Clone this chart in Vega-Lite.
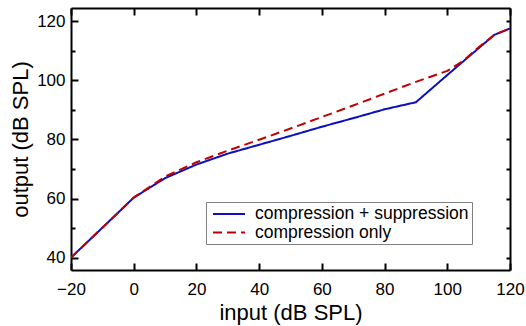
{
  "$schema": "https://vega.github.io/schema/vega-lite/v6.json",
  "width": 439,
  "height": 262,
  "autosize": {"type": "none"},
  "padding": {"left": 71, "top": 8, "right": 16, "bottom": 56},
  "background": "white",
  "config": {
    "view": {"stroke": null},
    "font": "Liberation Sans",
    "axis": {
      "grid": false,
      "domainColor": "black",
      "domainWidth": 2,
      "tickColor": "black",
      "tickWidth": 2,
      "labelColor": "black",
      "titleColor": "black",
      "labelFont": "Liberation Sans",
      "titleFont": "Liberation Sans",
      "labelFontSize": 17,
      "titleFontSize": 22,
      "titleFontWeight": "normal",
      "labelFlush": false,
      "labelOverlap": false
    },
    "legend": {
      "title": " ",
      "titleOrient": "bottom",
      "titleFontSize": 10,
      "titlePadding": 0,
      "orient": "none",
      "legendX": 135,
      "legendY": 194,
      "direction": "vertical",
      "strokeColor": "#808080",
      "fillColor": "white",
      "padding": 3,
      "symbolType": "M-2,0H2",
      "symbolSize": 256,
      "symbolOffset": 11,
      "symbolStrokeWidth": 2,
      "labelFontSize": 17.5,
      "labelFont": "Liberation Sans",
      "labelColor": "black",
      "labelOffset": 17,
      "rowPadding": 0.5,
      "labelLimit": 400
    }
  },
  "data": {
    "values": [
      {"series": "compression + suppression", "input": -20, "output": 40.0},
      {"series": "compression + suppression", "input": -10, "output": 50.1},
      {"series": "compression + suppression", "input": 0, "output": 60.3},
      {"series": "compression + suppression", "input": 10, "output": 66.9},
      {"series": "compression + suppression", "input": 20, "output": 71.5},
      {"series": "compression + suppression", "input": 30, "output": 75.2},
      {"series": "compression + suppression", "input": 40, "output": 78.2},
      {"series": "compression + suppression", "input": 50, "output": 81.2},
      {"series": "compression + suppression", "input": 60, "output": 84.3},
      {"series": "compression + suppression", "input": 70, "output": 87.2},
      {"series": "compression + suppression", "input": 80, "output": 90.2},
      {"series": "compression + suppression", "input": 90, "output": 92.6},
      {"series": "compression + suppression", "input": 100, "output": 101.8},
      {"series": "compression + suppression", "input": 110, "output": 110.9},
      {"series": "compression + suppression", "input": 115, "output": 115.4},
      {"series": "compression + suppression", "input": 120, "output": 117.6},
      {"series": "compression only", "input": -20, "output": 40.0},
      {"series": "compression only", "input": -10, "output": 50.1},
      {"series": "compression only", "input": 0, "output": 60.3},
      {"series": "compression only", "input": 10, "output": 67.4},
      {"series": "compression only", "input": 20, "output": 72.3},
      {"series": "compression only", "input": 30, "output": 76.2},
      {"series": "compression only", "input": 40, "output": 79.9},
      {"series": "compression only", "input": 50, "output": 83.7},
      {"series": "compression only", "input": 60, "output": 87.6},
      {"series": "compression only", "input": 70, "output": 91.5},
      {"series": "compression only", "input": 80, "output": 95.5},
      {"series": "compression only", "input": 90, "output": 99.5},
      {"series": "compression only", "input": 100, "output": 103.2},
      {"series": "compression only", "input": 105, "output": 106.5},
      {"series": "compression only", "input": 110, "output": 111.2},
      {"series": "compression only", "input": 115, "output": 115.4},
      {"series": "compression only", "input": 120, "output": 117.6}
    ]
  },
  "layer": [
    {
      "transform": [{"filter": "datum.series === 'compression + suppression'"}],
      "mark": {"type": "line", "strokeWidth": 2, "clip": true},
      "encoding": {
        "x": {
          "field": "input", "type": "quantitative",
          "scale": {"domain": [-20, 120], "nice": false, "zero": false},
          "axis": {"orient": "bottom", "title": "input (dB SPL)", "values": [-20, 0, 20, 40, 60, 80, 100, 120], "tickSize": -7, "labelPadding": 18, "titleBaseline": "alphabetic", "titleX": 219.5, "titleY": 49.5, "titleAlign": "center"}
        },
        "y": {
          "field": "output", "type": "quantitative",
          "scale": {"domain": [35.8, 124.5], "nice": false, "zero": false},
          "axis": {
            "orient": "left", "title": "output (dB SPL)",
            "values": [40, 50, 60, 70, 80, 90, 100, 110, 120],
            "labelExpr": "datum.value % 20 === 0 ? datum.label : ''",
            "tickSize": {"condition": {"test": "datum.value % 20 === 0", "value": -7}, "value": -4},
            "labelPadding": 13, "titleBaseline": "alphabetic", "titleX": -44, "titleY": 131, "titleAlign": "center", "titleAngle": -90
          }
        },
        "color": {
          "field": "series", "type": "nominal",
          "scale": {"domain": ["compression + suppression", "compression only"], "range": ["#0a0fbf", "#c00000"]}
        },
        "strokeDash": {
          "field": "series", "type": "nominal",
          "scale": {"domain": ["compression + suppression", "compression only"], "range": [[1, 0], [9, 5]]}
        }
      }
    },
    {
      "transform": [{"filter": "datum.series === 'compression only'"}],
      "mark": {"type": "line", "strokeWidth": 2, "clip": true},
      "encoding": {
        "x": {
          "field": "input", "type": "quantitative",
          "scale": {"domain": [-20, 120], "nice": false, "zero": false},
          "axis": {"orient": "top", "title": null, "labels": false, "values": [-20, 0, 20, 40, 60, 80, 100, 120], "tickSize": -7}
        },
        "y": {
          "field": "output", "type": "quantitative",
          "scale": {"domain": [35.8, 124.5], "nice": false, "zero": false},
          "axis": {"orient": "right", "title": null, "labels": false, "values": [40, 50, 60, 70, 80, 90, 100, 110, 120], "tickSize": -4}
        },
        "color": {
          "field": "series", "type": "nominal",
          "scale": {"domain": ["compression + suppression", "compression only"], "range": ["#0a0fbf", "#c00000"]}
        },
        "strokeDash": {
          "field": "series", "type": "nominal",
          "scale": {"domain": ["compression + suppression", "compression only"], "range": [[1, 0], [9, 5]]}
        }
      }
    }
  ],
  "resolve": {"axis": {"x": "independent", "y": "independent"}}
}
